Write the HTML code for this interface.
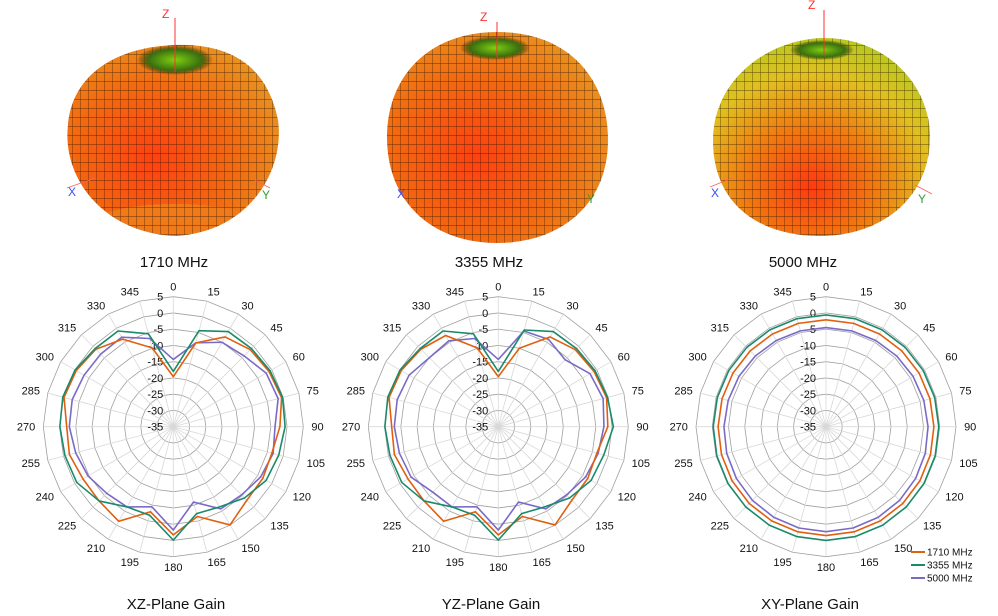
<!DOCTYPE html>
<html><head><meta charset="utf-8"><style>
html,body{margin:0;padding:0;background:#fff;}
svg{display:block;font-family:"Liberation Sans",sans-serif;}
</style></head><body>
<svg id="s" width="998" height="616" viewBox="0 0 998 616" xmlns="http://www.w3.org/2000/svg">
<defs>
<radialGradient id="g1" cx="0.4" cy="0.6" r="0.65">
<stop offset="0" stop-color="#ff4010"/><stop offset="0.6" stop-color="#f26a10"/><stop offset="1" stop-color="#e89020"/></radialGradient>
<radialGradient id="g3" cx="0.45" cy="0.75" r="0.75">
<stop offset="0" stop-color="#ff3a10"/><stop offset="0.4" stop-color="#f07a10"/><stop offset="0.75" stop-color="#e0c020"/><stop offset="1" stop-color="#b8c820"/></radialGradient>
<pattern id="grid" width="8" height="9" patternUnits="userSpaceOnUse">
<path d="M0 0H8M0 0V9" stroke="#2a1000" stroke-width="0.9" fill="none" opacity="0.7"/></pattern>
<radialGradient id="top" cx="0.5" cy="0.5" r="0.5"><stop offset="0" stop-color="#80d010"/><stop offset="0.7" stop-color="#3a7010"/><stop offset="1" stop-color="#202000" stop-opacity="0"/></radialGradient>
<path id="p1" d="M175,45 C235,43 268,70 278,120 C285,170 250,232 175,236 C100,232 62,175 68,125 C72,75 115,47 175,45Z"/>
<path id="p2" d="M497,32 C570,32 608,80 608,140 C608,205 560,243 497,243 C430,243 386,200 387,135 C388,75 430,32 497,32Z"/>
<path id="p3" d="M820,38 C890,36 932,90 930,140 C928,200 880,236 820,236 C760,236 713,205 713,140 C713,85 760,42 820,38Z"/>
<clipPath id="c1"><use href="#p1"/></clipPath>
</defs>
<g>
<use href="#p1" fill="url(#g1)"/>
<g clip-path="url(#c1)"><ellipse cx="175" cy="245" rx="100" ry="40" fill="#e8c020"/><ellipse cx="175" cy="232" rx="95" ry="28" fill="#f07a18"/></g>
<use href="#p1" fill="url(#grid)"/>
<ellipse cx="175" cy="60" rx="38" ry="15" fill="url(#top)"/>
<line x1="175" y1="18" x2="175" y2="72" stroke="#ff3030" stroke-width="1"/>
<text x="162" y="18" fill="#ff3030" font-size="12">Z</text>
<line x1="67" y1="188" x2="95" y2="178" stroke="#ff6060" stroke-width="0.8"/>
<text x="68" y="196" fill="#3050ff" font-size="12">X</text>
<line x1="255" y1="180" x2="270" y2="188" stroke="#ff6060" stroke-width="0.8"/>
<text x="262" y="199" fill="#30a030" font-size="12">Y</text>

<use href="#p2" fill="url(#g1)"/>
<use href="#p2" fill="url(#grid)"/>
<ellipse cx="495" cy="48" rx="35" ry="12" fill="url(#top)"/>
<line x1="497" y1="22" x2="497" y2="58" stroke="#ff3030" stroke-width="1"/>
<text x="480" y="21" fill="#ff3030" font-size="12">Z</text>
<text x="397" y="198" fill="#3050ff" font-size="12">X</text>
<text x="587" y="203" fill="#30a030" font-size="12">Y</text>

<use href="#p3" fill="url(#g3)"/>
<use href="#p3" fill="url(#grid)"/>
<ellipse cx="822" cy="50" rx="32" ry="10" fill="url(#top)"/>
<line x1="824" y1="10" x2="824" y2="55" stroke="#ff3030" stroke-width="1"/>
<text x="808" y="9" fill="#ff3030" font-size="12">Z</text>
<line x1="710" y1="187" x2="732" y2="178" stroke="#ff6060" stroke-width="0.8"/>
<text x="711" y="197" fill="#3050ff" font-size="12">X</text>
<line x1="915" y1="185" x2="932" y2="194" stroke="#ff6060" stroke-width="0.8"/>
<text x="918" y="203" fill="#30a030" font-size="12">Y</text>
</g>
<g font-size="15" fill="#111" text-anchor="middle">
<text x="174" y="267">1710 MHz</text>
<text x="489" y="267">3355 MHz</text>
<text x="803" y="267">5000 MHz</text>
<text x="176" y="609">XZ-Plane Gain</text>
<text x="491" y="609">YZ-Plane Gain</text>
<text x="810" y="609">XY-Plane Gain</text>
</g>
<g id="polars"></g>
<g font-size="10" fill="#111">
<line x1="911" y1="552" x2="925" y2="552" stroke="#e06010" stroke-width="2"/><text x="927" y="555.5">1710 MHz</text>
<line x1="911" y1="565" x2="925" y2="565" stroke="#1a8a6a" stroke-width="2"/><text x="927" y="568.5">3355 MHz</text>
<line x1="911" y1="578" x2="925" y2="578" stroke="#7a6ac8" stroke-width="2"/><text x="927" y="581.5">5000 MHz</text>
</g>
</svg>
<script>
var NS="http://www.w3.org/2000/svg",g=document.getElementById("polars");
function el(t,a,txt){var e=document.createElementNS(NS,t);for(var k in a)e.setAttribute(k,a[k]);if(txt!=null)e.textContent=txt;g.appendChild(e);return e;}
var K=3.25;
function pt(cx,cy,ang,db){var r=(db+35)*K,a=ang*Math.PI/180;return [cx+r*Math.sin(a),cy-r*Math.cos(a)];}
var OR=[-19.6,-8.3,-3.1,-1.5,-1,-0.5,-2.2,-3.6,-3.2,-3,-0.1,-6.4,-1.7,-7.9,-1.4,-2.7,-2.9,-1.9,-2.2,-0.2,-0.5,-1.3,-3.9,-9.9];
var GR=[-18,-4.4,-1.2,-1,-0.6,-0.2,-0.6,-1.4,-2,-4,-6.5,-7.3,-0.1,-6.8,-6.5,-2.7,-0.7,-0.5,-0.1,0.2,-0.1,-1,-1,-5.4];
var PU=[-14.3,-8.3,-5,-4.2,-2,-1.6,-3.7,-3.2,-4,-5.3,-5.8,-11,-3.2,-9.5,-6.5,-6,-4.7,-3.9,-3,-2.8,-3.3,-3.4,-3.2,-6.9];
var OR2=OR.slice(),GR2=GR.slice(),PU2=PU.slice();
OR2[6]=-1.3;GR2[6]=0.4;PU2[6]=-2.5;PU2[3]=-5.9;PU2[4]=-2.4;PU2[2]=-4;PU2[16]=-4;PU2[15]=-6.5;PU2[17]=-3.5;PU2[22]=-4.5;PU2[21]=-5;
OR2[22]=-2.6;GR2[22]=-1;OR2[1]=-10;PU2[1]=-4.5;GR2[1]=-4.2;
var O3=[],G3=[],P3=[];for(var i=0;i<24;i++){var c=Math.cos(i*15*Math.PI/180);O3.push(-1.8-0.3*c);G3.push(-0.3-0.3*c);P3.push(-3.6-0.9*c);}
function chart(cx,cy,sets){
 for(var d=-30;d<=5;d+=5){var p=[];for(var a=0;a<360;a+=15){p.push(pt(cx,cy,a,d).join(","));}
  el("polygon",{points:p.join(" "),fill:"none",stroke:"#a0a0a0","stroke-width":"0.8"});}
 for(var a=0;a<360;a+=15){var q=pt(cx,cy,a,5);el("line",{x1:cx,y1:cy,x2:q[0],y2:q[1],stroke:"#d8d8d8","stroke-width":"0.8"});
  var t=pt(cx,cy,a,8.1);var anc=(a==0||a==180)?"middle":(a<180?"start":"end");
  var dx=a==0||a==180?0:(a<180?-2:2);
  el("text",{x:t[0]+dx,y:t[1]+4,"font-size":"11","text-anchor":anc,fill:"#111"},String(a));}
 for(var d=5;d>=-35;d-=5){el("text",{x:cx-10,y:cy-(d+35)*K+4,"font-size":"11","text-anchor":"end",fill:"#111"},String(d));}
 var cols=["#e06010","#1a8a6a","#7a6ac8"];
 [2,0,1].forEach(function(k){var s=sets[k],p=[];for(var i=0;i<24;i++)p.push(pt(cx,cy,i*15,s[i]).join(","));
  el("polygon",{points:p.join(" "),fill:"none",stroke:cols[k],"stroke-width":"1.6","stroke-linejoin":"round"});});
}
chart(173.3,426.7,[OR,GR,PU]);
chart(498.3,426.7,[OR2,GR2,PU2]);
chart(826,426.7,[O3,G3,P3]);
</script>
</body></html>
